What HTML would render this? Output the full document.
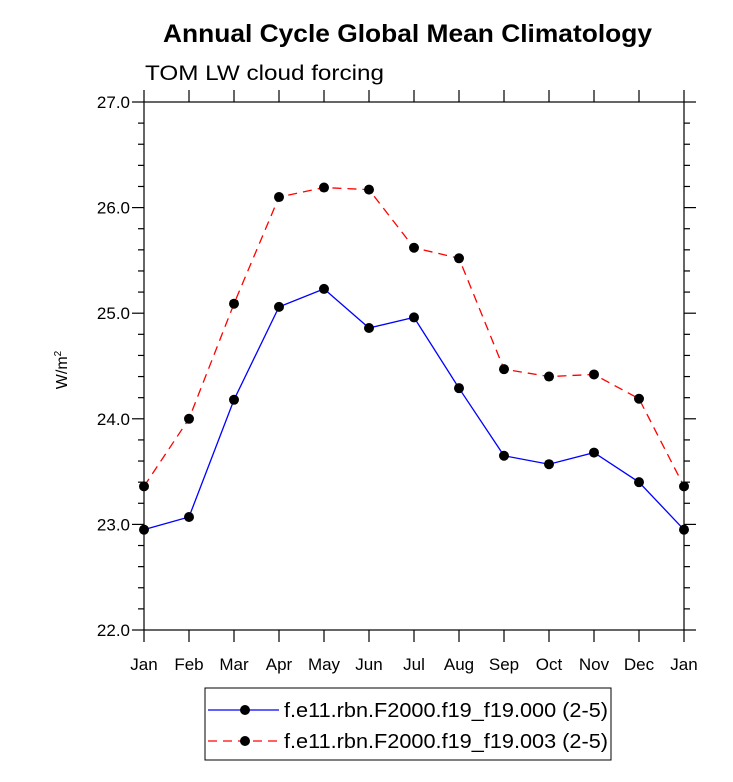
<!DOCTYPE html>
<html><head><meta charset="utf-8"><style>
body{margin:0;background:#fff;}
svg{display:block;font-family:"Liberation Sans",sans-serif;}
</style></head><body>
<svg id="chart" width="733" height="782">
<text x="163" y="42" font-size="25" font-weight="bold" textLength="489" lengthAdjust="spacingAndGlyphs">Annual Cycle Global Mean Climatology</text>
<text x="145" y="80" font-size="21" textLength="239" lengthAdjust="spacingAndGlyphs">TOM LW cloud forcing</text>
<text transform="translate(67,370) rotate(-90)" text-anchor="middle" font-size="16">W/m<tspan dy="-6" font-size="10">2</tspan></text>
<rect x="144" y="102" width="540" height="528" fill="none" stroke="#000" stroke-width="1.2"/>
<g id="axes"></g>
<g id="series"></g>
<g>
<rect x="205" y="688" width="406" height="72" fill="none" stroke="#000" stroke-width="1"/>
<line x1="208" y1="710" x2="279" y2="710" stroke="#00f" stroke-width="1.3"/>
<circle cx="245" cy="710" r="5"/>
<text x="284" y="717" font-size="20" textLength="324" lengthAdjust="spacingAndGlyphs">f.e11.rbn.F2000.f19_f19.000 (2-5)</text>
<line x1="208" y1="741" x2="279" y2="741" stroke="#f00" stroke-width="1.3" stroke-dasharray="9,6"/>
<circle cx="245" cy="741" r="5"/>
<text x="284" y="748" font-size="20" textLength="324" lengthAdjust="spacingAndGlyphs">f.e11.rbn.F2000.f19_f19.003 (2-5)</text>
</g>
</svg>
<script>
const months = ["Jan","Feb","Mar","Apr","May","Jun","Jul","Aug","Sep","Oct","Nov","Dec","Jan"];
const series000 = [22.95,23.07,24.18,25.06,25.23,24.86,24.96,24.29,23.65,23.57,23.68,23.40,22.95];
const series003 = [23.36,24.00,25.09,26.10,26.19,26.17,25.62,25.52,24.47,24.40,24.42,24.19,23.36];
const yTicks = ["22.0","23.0","24.0","25.0","26.0","27.0"];
const NS="http://www.w3.org/2000/svg";
const X0=144,X1=684,Y0=630,Y1=102,YMIN=22,YMAX=27;
function xs(i){return X0+(X1-X0)*i/(months.length-1);}
function ys(v){return Y0-(v-YMIN)/(YMAX-YMIN)*(Y0-Y1);}
function mk(tag,attrs,parent){const e=document.createElementNS(NS,tag);for(const k in attrs)e.setAttribute(k,attrs[k]);parent.appendChild(e);return e;}
const ax=document.getElementById('axes');
months.forEach((m,i)=>{
  const x=xs(i);
  const t1=mk('line',{x1:x,y1:Y0,x2:x,y2:Y0+12,stroke:'#000','stroke-width':1.2},ax);
  
  
  const t2=mk('line',{x1:x,y1:Y1,x2:x,y2:Y1-12,stroke:'#000','stroke-width':1.2},ax);
  
  
  const tx=mk('text',{x:x,y:670,'text-anchor':'middle','font-size':17},ax);
  tx.textContent=m;
  
  
});
for(let v=YMIN;v<=YMAX+1e-9;v+=0.2){
  const y=ys(v);const major=Math.abs(v-Math.round(v))<1e-6;const L=major?12:6;
  const a=mk('line',{x1:X0,y1:y,x2:X0-L,y2:y,stroke:'#000','stroke-width':1.2},ax);
  
  
  const b=mk('line',{x1:X1,y1:y,x2:X1+L,y2:y,stroke:'#000','stroke-width':1.2},ax);
  
  
}
yTicks.forEach(t=>{
  const tx=mk('text',{x:130,y:ys(parseFloat(t))+6,'text-anchor':'end','font-size':17},ax);
  tx.textContent=t;
  
  
});
const sg=document.getElementById('series');
function draw(data,color,dash,name){
  const pts=data.map((v,i)=>xs(i)+','+ys(v)).join(' ');
  const pl=mk('polyline',{points:pts,fill:'none',stroke:color,'stroke-width':1.3},sg);
  if(dash)pl.setAttribute('stroke-dasharray',dash);
  
  
  data.forEach((v,i)=>{
    const c=mk('circle',{cx:xs(i),cy:ys(v),r:5,fill:'#000'},sg);
    
    
  });
}
draw(series003,'#f00','9,6','series-003');
draw(series000,'#00f',null,'series-000');
</script>
</body></html>
